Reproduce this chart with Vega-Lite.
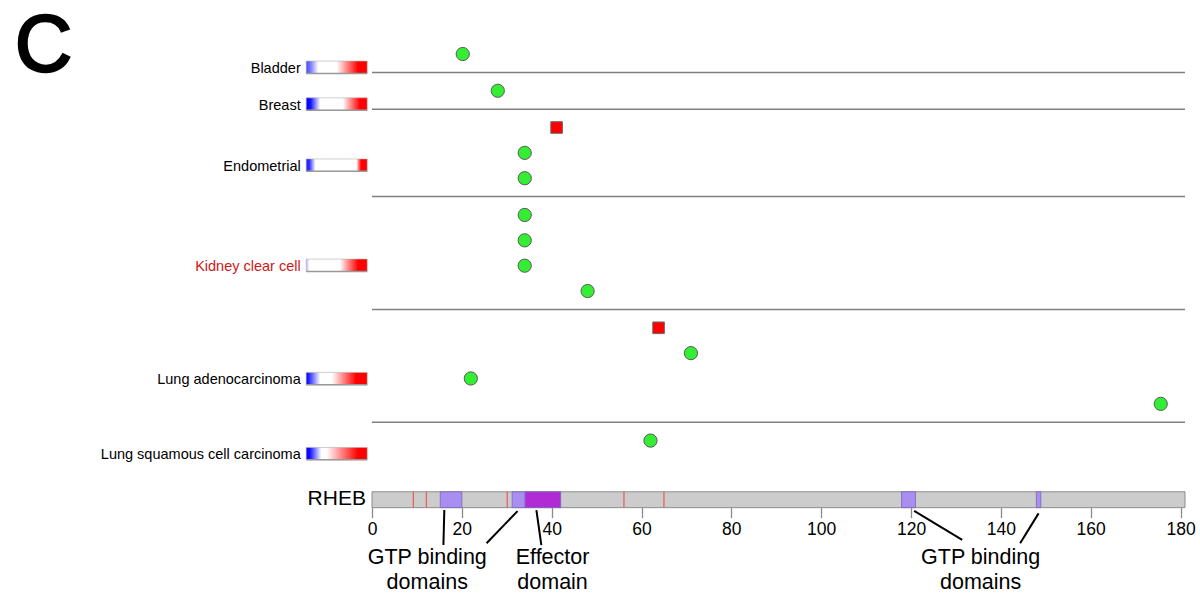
{
  "$schema": "https://vega.github.io/schema/vega-lite/v6.json",
  "width": 813,
  "height": 479,
  "autosize": {"type": "none"},
  "padding": {"left": 372, "top": 28.65, "right": 15, "bottom": 90.35},
  "config": {
    "view": {"stroke": null},
    "font": "Liberation Sans",
    "text": {"font": "Liberation Sans"}
  },
  "datasets": {
    "seps": [
      {"x": 0, "x2": 181, "y": 0.725},
      {"x": 0, "x2": 181, "y": 2.175},
      {"x": 0, "x2": 181, "y": 5.625},
      {"x": 0, "x2": 181, "y": 10.075},
      {"x": 0, "x2": 181, "y": 14.525}
    ],
    "protein": [{"x": 0, "x2": 181, "y": 17.27, "y2": 17.895}],
    "domains": [
      {"domain": "GTP binding", "x": 15.2, "x2": 20.0, "y": 17.27, "y2": 17.895},
      {"domain": "GTP binding", "x": 31.2, "x2": 34.1, "y": 17.27, "y2": 17.895},
      {"domain": "Effector", "x": 34.1, "x2": 42.0, "y": 17.27, "y2": 17.895},
      {"domain": "GTP binding", "x": 117.9, "x2": 121.0, "y": 17.27, "y2": 17.895},
      {"domain": "GTP binding", "x": 147.9, "x2": 148.9, "y": 17.27, "y2": 17.895}
    ],
    "sites": [
      {"x": 9.2, "y": 17.27, "y2": 17.895},
      {"x": 12.1, "y": 17.27, "y2": 17.895},
      {"x": 30.1, "y": 17.27, "y2": 17.895},
      {"x": 56.1, "y": 17.27, "y2": 17.895},
      {"x": 65.0, "y": 17.27, "y2": 17.895}
    ],
    "gene": [{"x": -1.34, "y": 17.55, "text": "RHEB"}],
    "leaders": [
      {"x": 16.1, "y": 17.99, "x2": 15.9, "y2": 19.37},
      {"x": 32.4, "y": 18.03, "x2": 25.5, "y2": 19.3},
      {"x": 36.6, "y": 17.99, "x2": 37.7, "y2": 19.37},
      {"x": 120.7, "y": 18.02, "x2": 131.4, "y2": 19.17},
      {"x": 148.4, "y": 18.12, "x2": 144.3, "y2": 19.3}
    ],
    "notes": [
      {"x": 12.3, "y": 20.1, "text": "GTP binding"},
      {"x": 12.3, "y": 21.1, "text": "domains"},
      {"x": 40.2, "y": 20.1, "text": "Effector"},
      {"x": 40.2, "y": 21.1, "text": "domain"},
      {"x": 135.5, "y": 20.1, "text": "GTP binding"},
      {"x": 135.5, "y": 21.1, "text": "domains"}
    ],
    "tumors": [
      {"tumor": "Bladder", "x": -15.87, "y": 0.59, "bx": -14.65, "bx2": -1.07, "btop": 0.28, "bbot": 0.77},
      {"tumor": "Breast", "x": -15.87, "y": 2.04, "bx": -14.65, "bx2": -1.07, "btop": 1.73, "bbot": 2.22},
      {"tumor": "Endometrial", "x": -15.87, "y": 4.45, "bx": -14.65, "bx2": -1.07, "btop": 4.14, "bbot": 4.63},
      {"tumor": "Kidney clear cell", "x": -15.87, "y": 8.4, "bx": -14.65, "bx2": -1.07, "btop": 8.09, "bbot": 8.58},
      {"tumor": "Lung adenocarcinoma", "x": -15.87, "y": 12.87, "bx": -14.65, "bx2": -1.07, "btop": 12.56, "bbot": 13.05},
      {"tumor": "Lung squamous cell carcinoma", "x": -15.87, "y": 15.83, "bx": -14.65, "bx2": -1.07, "btop": 15.52, "bbot": 16.01}
    ],
    "muts": [
      {"tumor": "Bladder", "x": 20.2, "y": 0, "type": "Missense"},
      {"tumor": "Breast", "x": 28.0, "y": 1.45, "type": "Missense"},
      {"tumor": "Endometrial", "x": 41.1, "y": 2.9, "type": "Truncating"},
      {"tumor": "Endometrial", "x": 34.0, "y": 3.9, "type": "Missense"},
      {"tumor": "Endometrial", "x": 34.0, "y": 4.9, "type": "Missense"},
      {"tumor": "Kidney clear cell", "x": 34.0, "y": 6.35, "type": "Missense"},
      {"tumor": "Kidney clear cell", "x": 34.0, "y": 7.35, "type": "Missense"},
      {"tumor": "Kidney clear cell", "x": 34.0, "y": 8.35, "type": "Missense"},
      {"tumor": "Kidney clear cell", "x": 48.0, "y": 9.35, "type": "Missense"},
      {"tumor": "Lung adenocarcinoma", "x": 63.8, "y": 10.8, "type": "Truncating"},
      {"tumor": "Lung adenocarcinoma", "x": 71.0, "y": 11.8, "type": "Missense"},
      {"tumor": "Lung adenocarcinoma", "x": 22.0, "y": 12.8, "type": "Missense"},
      {"tumor": "Lung adenocarcinoma", "x": 175.6, "y": 13.8, "type": "Missense"},
      {"tumor": "Lung squamous cell carcinoma", "x": 62.0, "y": 15.25, "type": "Missense"}
    ],
    "panel": [{"x": -73.1, "y": 0.69, "text": "C"}]
  },
  "encoding": {
    "x": {
      "field": "x",
      "type": "quantitative",
      "scale": {"domain": [0, 181], "nice": false, "zero": false},
      "axis": {
        "title": null,
        "tickCount": 10,
        "domain": false,
        "grid": false,
        "tickSize": 10,
        "tickColor": "#8a8a8a",
        "tickWidth": 1.3,
        "labelFontSize": 17.5,
        "labelColor": "#000000",
        "labelPadding": 3,
        "labelFlush": false,
        "labelFont": "Liberation Sans"
      }
    },
    "y": {
      "field": "y",
      "type": "quantitative",
      "scale": {"domain": [-1, 17.895], "reverse": true, "nice": false, "zero": false},
      "axis": null
    }
  },
  "layer": [
    {
      "data": {"name": "seps"},
      "mark": {"type": "rule", "color": "#808080", "strokeWidth": 1.5},
      "encoding": {"x2": {"field": "x2"}}
    },
    {
      "data": {"name": "protein"},
      "mark": {"type": "rect", "fill": "#cccccc", "stroke": "#8c8c8c", "strokeWidth": 1},
      "encoding": {"x2": {"field": "x2"}, "y2": {"field": "y2"}}
    },
    {
      "data": {"name": "sites"},
      "mark": {"type": "rule", "color": "#e85a5a", "strokeWidth": 1.2},
      "encoding": {"y2": {"field": "y2"}}
    },
    {
      "data": {"name": "domains"},
      "mark": {"type": "rect", "stroke": "#7a66b8", "strokeWidth": 0.8},
      "encoding": {
        "x2": {"field": "x2"},
        "y2": {"field": "y2"},
        "color": {
          "field": "domain",
          "type": "nominal",
          "scale": {"domain": ["GTP binding", "Effector"], "range": ["#a98ef2", "#b02ad6"]},
          "legend": null
        }
      }
    },
    {
      "data": {"name": "gene"},
      "mark": {"type": "text", "align": "right", "baseline": "middle", "fontSize": 21, "color": "#000000"},
      "encoding": {"text": {"field": "text"}}
    },
    {
      "data": {"name": "leaders"},
      "mark": {"type": "rule", "color": "#000000", "strokeWidth": 2},
      "encoding": {"x2": {"field": "x2"}, "y2": {"field": "y2"}}
    },
    {
      "data": {"name": "notes"},
      "mark": {"type": "text", "align": "center", "baseline": "alphabetic", "fontSize": 21.5, "color": "#000000"},
      "encoding": {"text": {"field": "text"}}
    },
    {
      "data": {"name": "tumors"},
      "mark": {"type": "text", "align": "right", "baseline": "middle", "fontSize": 14.5},
      "encoding": {
        "text": {"field": "tumor"},
        "color": {
          "condition": {"test": "datum.tumor === 'Kidney clear cell'", "value": "#d01818"},
          "value": "#000000"
        }
      }
    },
    {
      "data": {"name": "tumors"},
      "transform": [{"filter": "datum.tumor === 'Bladder'"}],
      "mark": {"type": "rect", "stroke": "#b0b0b0", "strokeWidth": 0.6,
        "fill": {"gradient": "linear", "x1": 0, "y1": 0, "x2": 1, "y2": 0, "stops": [
          {"offset": 0, "color": "#4848ff"}, {"offset": 0.06, "color": "#7070ff"}, {"offset": 0.2, "color": "#ffffff"},
          {"offset": 0.5, "color": "#ffffff"}, {"offset": 0.85, "color": "#ff0000"}, {"offset": 1, "color": "#ff0000"}]}},
      "encoding": {"x": {"field": "bx"}, "x2": {"field": "bx2"}, "y": {"field": "btop"}, "y2": {"field": "bbot"}}
    },
    {
      "data": {"name": "tumors"},
      "transform": [{"filter": "datum.tumor === 'Breast'"}],
      "mark": {"type": "rect", "stroke": "#b0b0b0", "strokeWidth": 0.6,
        "fill": {"gradient": "linear", "x1": 0, "y1": 0, "x2": 1, "y2": 0, "stops": [
          {"offset": 0, "color": "#0000ff"}, {"offset": 0.07, "color": "#1010ff"}, {"offset": 0.23, "color": "#ffffff"},
          {"offset": 0.6, "color": "#ffffff"}, {"offset": 0.88, "color": "#ff0000"}, {"offset": 1, "color": "#ff0000"}]}},
      "encoding": {"x": {"field": "bx"}, "x2": {"field": "bx2"}, "y": {"field": "btop"}, "y2": {"field": "bbot"}}
    },
    {
      "data": {"name": "tumors"},
      "transform": [{"filter": "datum.tumor === 'Endometrial'"}],
      "mark": {"type": "rect", "stroke": "#b0b0b0", "strokeWidth": 0.6,
        "fill": {"gradient": "linear", "x1": 0, "y1": 0, "x2": 1, "y2": 0, "stops": [
          {"offset": 0, "color": "#2020ff"}, {"offset": 0.05, "color": "#2a2aff"}, {"offset": 0.15, "color": "#ffffff"},
          {"offset": 0.82, "color": "#ffffff"}, {"offset": 0.9, "color": "#ff0000"}, {"offset": 1, "color": "#ff0000"}]}},
      "encoding": {"x": {"field": "bx"}, "x2": {"field": "bx2"}, "y": {"field": "btop"}, "y2": {"field": "bbot"}}
    },
    {
      "data": {"name": "tumors"},
      "transform": [{"filter": "datum.tumor === 'Kidney clear cell'"}],
      "mark": {"type": "rect", "stroke": "#b0b0b0", "strokeWidth": 0.6,
        "fill": {"gradient": "linear", "x1": 0, "y1": 0, "x2": 1, "y2": 0, "stops": [
          {"offset": 0, "color": "#b0b0ff"}, {"offset": 0.05, "color": "#ffffff"},
          {"offset": 0.55, "color": "#ffffff"}, {"offset": 0.85, "color": "#ff0000"}, {"offset": 1, "color": "#ff0000"}]}},
      "encoding": {"x": {"field": "bx"}, "x2": {"field": "bx2"}, "y": {"field": "btop"}, "y2": {"field": "bbot"}}
    },
    {
      "data": {"name": "tumors"},
      "transform": [{"filter": "datum.tumor === 'Lung adenocarcinoma'"}],
      "mark": {"type": "rect", "stroke": "#b0b0b0", "strokeWidth": 0.6,
        "fill": {"gradient": "linear", "x1": 0, "y1": 0, "x2": 1, "y2": 0, "stops": [
          {"offset": 0, "color": "#0000ff"}, {"offset": 0.04, "color": "#2020ff"}, {"offset": 0.23, "color": "#ffffff"},
          {"offset": 0.42, "color": "#ffffff"}, {"offset": 0.82, "color": "#ff0000"}, {"offset": 1, "color": "#ff0000"}]}},
      "encoding": {"x": {"field": "bx"}, "x2": {"field": "bx2"}, "y": {"field": "btop"}, "y2": {"field": "bbot"}}
    },
    {
      "data": {"name": "tumors"},
      "transform": [{"filter": "datum.tumor === 'Lung squamous cell carcinoma'"}],
      "mark": {"type": "rect", "stroke": "#b0b0b0", "strokeWidth": 0.6,
        "fill": {"gradient": "linear", "x1": 0, "y1": 0, "x2": 1, "y2": 0, "stops": [
          {"offset": 0, "color": "#0000ff"}, {"offset": 0.06, "color": "#1010ff"}, {"offset": 0.25, "color": "#ffffff"},
          {"offset": 0.33, "color": "#ffffff"}, {"offset": 0.85, "color": "#ff0000"}, {"offset": 1, "color": "#ff0000"}]}},
      "encoding": {"x": {"field": "bx"}, "x2": {"field": "bx2"}, "y": {"field": "btop"}, "y2": {"field": "bbot"}}
    },
    {
      "data": {"name": "tumors"},
      "mark": {"type": "rule", "color": "#999999", "strokeWidth": 1.5},
      "encoding": {"x": {"field": "bx"}, "x2": {"field": "bx2"}, "y": {"field": "bbot"}}
    },
    {
      "data": {"name": "muts"},
      "transform": [{"filter": "datum.type === 'Missense'"}],
      "mark": {"type": "point", "shape": "circle", "filled": true, "size": 175, "fill": "#33ee33", "stroke": "#5a5a5a", "strokeWidth": 1, "opacity": 1}
    },
    {
      "data": {"name": "muts"},
      "transform": [{"filter": "datum.type === 'Truncating'"}],
      "mark": {"type": "point", "shape": "square", "filled": true, "size": 135, "fill": "#ff0000", "stroke": "#6a6a6a", "strokeWidth": 1, "opacity": 1}
    },
    {
      "data": {"name": "panel"},
      "mark": {"type": "text", "align": "center", "baseline": "alphabetic", "fontSize": 79, "fontWeight": "normal", "color": "#000000", "stroke": "#000000", "strokeWidth": 2.5},
      "encoding": {"text": {"field": "text"}}
    }
  ]
}
